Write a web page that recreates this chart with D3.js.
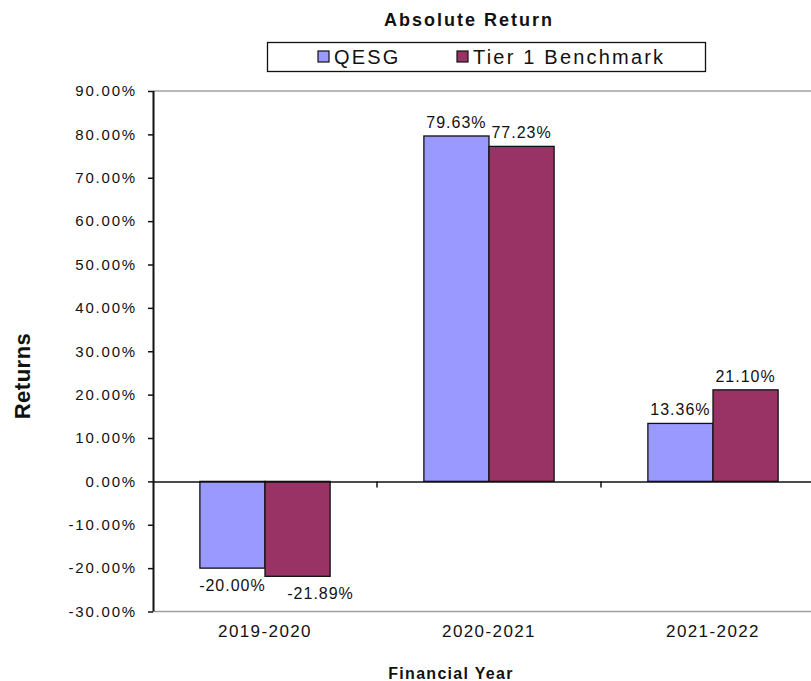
<!DOCTYPE html>
<html>
<head>
<meta charset="utf-8">
<script src="https://cdn.jsdelivr.net/npm/d3@7"></script>
<style>
  body { margin: 0; background: #fff; }
  text { font-family: "Liberation Sans", Arial, sans-serif; fill: #111; }
</style>
</head>
<body>
<div id="chart"></div>
<script>
// data
const years = ["2019-2020", "2020-2021", "2021-2022"];
const seriesNames = ["QESG", "Tier 1 Benchmark"];
const qesg = [-20.00, 79.63, 13.36];
const benchmark = [-21.89, 77.23, 21.10];
const yTicks = [90, 80, 70, 60, 50, 40, 30, 20, 10, 0, -10, -20, -30];

const colors = ["#9999ff", "#993366"];
const width = 811, height = 681;
const margin = {top: 91, right: -14, bottom: 69, left: 153};

const svg = d3.select("#chart").append("svg")
    .attr("width", width)
    .attr("height", height);

const y = d3.scaleLinear()
    .domain([-30, 90])
    .range([height - margin.bottom - 0.5, margin.top]);

const x = d3.scaleBand()
    .domain(years)
    .range([margin.left, width - margin.right]);

const x1 = d3.scaleBand()
    .domain(seriesNames)
    .range([0, x.bandwidth()])
    .paddingOuter(0.72)
    .paddingInner(0);

const rows = years.map((yr, i) => ({year: yr, values: [qesg[i], benchmark[i]]}));

// plot area border (grey top and bottom)
svg.append("line")
    .attr("x1", margin.left).attr("x2", width)
    .attr("y1", y(90)).attr("y2", y(90))
    .attr("stroke", "#a0a0a0").attr("stroke-width", 1.5);
svg.append("line")
    .attr("x1", margin.left).attr("x2", width)
    .attr("y1", y(-30)).attr("y2", y(-30))
    .attr("stroke", "#a0a0a0").attr("stroke-width", 1.5);

// bars
const groups = svg.append("g")
  .selectAll("g")
  .data(rows)
  .join("g")
    .attr("transform", d => `translate(${x(d.year)},0)`);

groups.selectAll("rect")
  .data(d => d.values.map((v, k) => ({name: seriesNames[k], value: v, k})))
  .join("rect")
    .attr("x", d => x1(d.name))
    .attr("y", d => y(Math.max(0, d.value)))
    .attr("width", x1.bandwidth())
    .attr("height", d => Math.abs(y(d.value) - y(0)))
    .attr("fill", d => colors[d.k])
    .attr("stroke", "#111")
    .attr("stroke-width", 1.3);

// value labels
groups.selectAll("text.val")
  .data(d => d.values.map((v, k) => ({name: seriesNames[k], value: v, k})))
  .join("text")
    .attr("class", "val")
    .attr("x", d => x1(d.name) + x1.bandwidth() / 2 + (d.value < 0 && d.k === 1 ? 23 : 0))
    .attr("y", d => d.value >= 0 ? y(d.value) - 8 : y(d.value) + 23)
    .attr("text-anchor", "middle")
    .style("font-size", "16px")
    .style("letter-spacing", "1px")
    .text(d => d.value.toFixed(2) + "%");

// y axis
const yAxis = svg.append("g")
    .attr("transform", `translate(${margin.left},0)`)
    .call(d3.axisLeft(y).tickValues(yTicks).tickSize(5).tickPadding(11)
      .tickFormat(d => d.toFixed(2) + "%"));
yAxis.select(".domain").attr("stroke", "#111").attr("stroke-width", 2)
    .attr("d", `M0.5,${y(90)}V${y(-30)}`);
yAxis.selectAll(".tick line").attr("stroke", "#111").attr("stroke-width", 1.5);
yAxis.selectAll(".tick text")
    .style("font-size", "15px")
    .style("letter-spacing", "1.8px")
    .attr("fill", "#111");

// x axis at zero
const xAxis = svg.append("g")
    .attr("transform", `translate(0,${y(0)})`)
    .call(d3.axisBottom(x).tickSize(0).tickFormat(""));
xAxis.select(".domain").attr("stroke", "#111").attr("stroke-width", 1.5)
    .attr("d", `M${margin.left},0.5H${width}`);
xAxis.selectAll(".tick").remove();
// category separators
xAxis.selectAll("line.sep")
  .data(years.slice(1))
  .join("line")
    .attr("class", "sep")
    .attr("x1", d => x(d)).attr("x2", d => x(d))
    .attr("y1", 0).attr("y2", 6)
    .attr("stroke", "#111").attr("stroke-width", 1.5);

// category labels
svg.append("g")
  .selectAll("text")
  .data(years)
  .join("text")
    .attr("x", d => x(d) + x.bandwidth() / 2)
    .attr("y", 637)
    .attr("text-anchor", "middle")
    .style("font-size", "17px")
    .style("letter-spacing", "1.4px")
    .text(d => d);

// title
svg.append("text")
    .attr("x", 469).attr("y", 26)
    .attr("text-anchor", "middle")
    .style("font-size", "18px")
    .style("font-weight", "bold")
    .style("letter-spacing", "2px")
    .text("Absolute Return");

// axis titles
svg.append("text")
    .attr("x", 451).attr("y", 679)
    .attr("text-anchor", "middle")
    .style("font-size", "16px")
    .style("font-weight", "bold")
    .style("letter-spacing", "1.3px")
    .text("Financial Year");

svg.append("text")
    .attr("transform", "translate(30,376) rotate(-90)")
    .attr("text-anchor", "middle")
    .style("font-size", "22px")
    .style("font-weight", "bold")
    .style("letter-spacing", "0.5px")
    .text("Returns");

// legend
const legend = svg.append("g");
legend.append("rect")
    .attr("x", 267.5).attr("y", 42.5)
    .attr("width", 438).attr("height", 29)
    .attr("fill", "#fff")
    .attr("stroke", "#111").attr("stroke-width", 1.3);
const legendX = [318, 457];
const items = legend.selectAll("g")
  .data(seriesNames)
  .join("g")
    .attr("transform", (d, i) => `translate(${legendX[i]},51)`);
items.append("rect")
    .attr("width", 11).attr("height", 11)
    .attr("fill", (d, i) => colors[i])
    .attr("stroke", "#111").attr("stroke-width", 1.2);
items.append("text")
    .attr("x", 16).attr("y", 13)
    .style("font-size", "20px")
    .style("letter-spacing", "2.2px")
    .text(d => d);
</script>
</body>
</html>
